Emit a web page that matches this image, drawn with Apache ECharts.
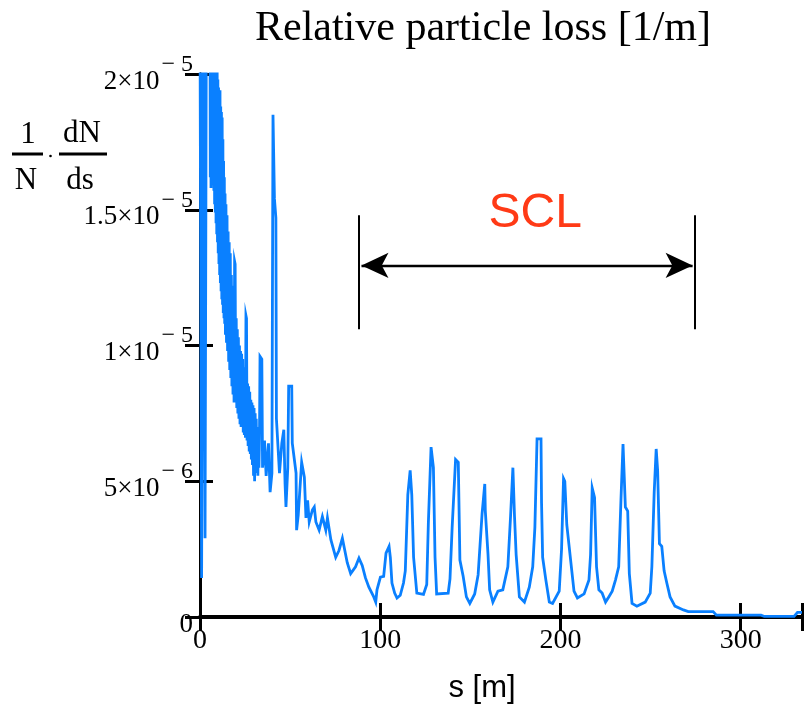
<!DOCTYPE html>
<html>
<head>
<meta charset="utf-8">
<script src="https://cdn.jsdelivr.net/npm/echarts@6/dist/echarts.min.js"></script>
<style>
html,body{margin:0;padding:0;background:#fff;overflow:hidden;}
#chart{width:805px;height:705px;}
</style>
</head>
<body>
<div id="chart"></div>
<script>
// ---- Data (s in metres, loss in units of 1e-6 per metre) ----
const sVals = [
  0.0, 0.9, 1.7, 2.0, 2.8, 3.6, 5.5,
  5.7, 5.9, 6.1, 6.3, 6.5, 6.7, 6.9, 7.1, 7.3, 7.5, 7.7, 7.9, 8.1, 8.3, 8.5, 8.7, 8.9, 9.1, 9.3, 9.5, 9.7, 9.9,
  10.1, 10.3, 10.5, 10.7, 10.9, 11.1, 11.3, 11.5, 11.7, 11.9, 12.1, 12.3, 12.5, 12.7, 12.9, 13.1, 13.3, 13.5, 13.7, 13.9,
  14.1, 14.4, 14.7, 15.0, 15.3, 15.6, 15.9, 16.2, 16.5, 16.8, 17.1, 17.4, 17.7, 18.0, 18.3, 18.6, 18.9, 19.2, 19.5, 19.8,
  20.1, 20.4, 20.7, 21.0, 21.3, 21.6, 21.9, 22.2, 22.5, 22.8, 23.1, 23.4, 23.7, 24.0, 24.3, 24.6, 24.9, 25.2, 25.5, 25.8,
  26.1, 26.4, 26.7, 27.0, 27.3, 27.6, 27.9, 28.2, 28.5, 28.8, 29.1, 29.4, 29.7, 30.0, 30.3, 30.6, 30.9, 31.2, 31.5, 31.8,
  32.1, 32.4, 32.7, 33.0, 33.3, 34.3, 34.7, 35.8, 36.7, 38.0, 38.9, 39.9, 40.5, 40.9, 41.3, 42.1, 42.4, 43.5, 44.1, 45.4,
  46.5, 47.2, 47.7, 48.7, 49.2, 50.9, 51.2, 52.3, 53.3, 53.6, 54.5, 56.4, 57.9, 58.8, 59.7, 60.6, 62.4, 63.4, 64.3, 66.1,
  67.9, 69.8, 70.7, 72.6, 75.3, 77.1, 79.0, 79.9, 81.7, 83.6, 86.3, 88.2, 90.0, 91.8, 93.7, 96.4, 97.5, 98.2, 100.1, 101.9,
  103.2, 104.9, 105.6, 106.5, 108.0, 109.3, 111.1, 112.9, 113.9, 115.3, 116.6, 117.5, 118.5, 120.3, 124.0, 125.8, 126.7, 128.2, 129.5, 130.4,
  131.3, 137.7, 138.7, 139.9, 141.8, 143.3, 144.2, 146.0, 147.8, 149.7, 152.4, 154.3, 156.5, 158.0, 158.3, 159.8, 160.7, 162.5, 165.3, 168.0,
  170.8, 172.3, 173.6, 174.5, 175.4, 177.2, 180.0, 182.7, 184.6, 185.8, 187.0, 189.2, 189.5, 190.1, 191.9, 193.8, 195.6, 199.3, 200.6, 201.7,
  202.4, 203.5, 204.8, 207.5, 209.4, 213.1, 215.8, 216.7, 217.6, 218.9, 220.0, 221.3, 223.1, 225.0, 226.8, 228.7, 230.5, 232.3, 233.6, 234.7,
  235.6, 236.0, 237.3, 238.2, 239.7, 242.4, 247.0, 249.8, 250.7, 252.0, 253.1, 253.9, 254.9, 256.2, 257.5, 259.0, 260.8, 263.5, 268.2, 270.9,
  284.7, 286.5, 311.3, 313.1, 329.6, 331.5, 334.0
];
const lossVals = [
  22, 1.44, 24, 24, 2.9, 24, 24,
  16.2, 24, 15.8, 23, 16.5, 24, 15.9, 22.5, 16.3, 24, 15.7, 21.5, 15.2, 22, 14.9, 21, 14.5, 20.5, 14.1, 21, 13.8, 19.8,
  13.4, 19.5, 13.0, 19.2, 12.6, 19.4, 12.3, 18.8, 12.0, 18.6, 11.7, 18.4, 11.5, 17.6, 11.2, 16.8, 11.0, 16.2, 10.8, 15.6,
  10.4, 15.2, 10.1, 14.8, 9.8, 14.2, 9.4, 13.8, 9.1, 13.4, 8.8, 12.6, 8.5, 12.2, 8.2, 11.6, 7.9, 13.1, 13.0, 8.0,
  11.0, 7.7, 10.6, 7.5, 10.3, 7.3, 10.0, 7.1, 9.8, 7.0, 9.7, 7.2, 9.5, 6.8, 9.2, 6.7, 8.9, 6.6, 11.1, 11.0,
  6.5, 8.6, 6.3, 8.5, 6.1, 8.3, 6.0, 8.0, 5.8, 7.9, 5.6, 7.8, 5.2, 7.7, 5.0, 7.5, 5.3, 7.3, 5.4, 7.0,
  5.2, 6.9, 5.5, 6.6, 9.6, 9.5, 5.5, 6.5, 5.2, 6.4, 4.6, 5.3, 18.5, 18.5, 15.4, 14.7, 7.3, 7.3, 5.3, 6.4,
  6.9, 4.9, 4.05, 5.5, 8.5, 8.5, 6.4, 6.4, 5.3, 3.2, 3.75, 5.7, 5.15, 3.65, 4.3, 3.5, 3.95, 4.05, 3.5, 3.2,
  3.7, 3.2, 3.65, 2.85, 2.2, 2.45, 2.9, 2.6, 2.0, 1.6, 1.85, 2.17, 1.9, 1.44, 1.1, 0.74, 0.55, 1.0, 1.47, 1.5,
  2.35, 2.6, 2.2, 1.25, 0.88, 0.7, 0.8, 1.25, 1.7, 4.5, 5.4, 4.5, 2.2, 0.88, 0.83, 1.2, 3.46, 6.26, 5.5, 2.2,
  0.85, 0.88, 1.4, 3.3, 5.8, 5.7, 2.1, 1.5, 0.74, 0.5, 0.85, 1.55, 3.8, 4.9, 3.9, 2.3, 1.0, 0.55, 0.95, 1.0,
  1.85, 3.7, 5.5, 3.7, 2.3, 0.74, 0.55, 1.1, 1.85, 3.3, 6.56, 6.56, 4.2, 2.2, 1.36, 0.55, 0.5, 0.95, 2.5, 5.1,
  5.0, 3.4, 2.6, 0.95, 0.7, 0.85, 1.36, 2.3, 4.75, 4.4, 1.85, 1.0, 0.88, 0.55, 0.74, 0.95, 1.36, 1.85, 4.4, 6.37,
  6.37, 4.05, 3.9, 1.6, 0.5, 0.4, 0.55, 0.88, 1.85, 4.6, 6.19, 5.4, 2.7, 2.6, 1.7, 1.25, 0.74, 0.4, 0.26, 0.2,
  0.2, 0.07, 0.07, 0.02, 0.02, 0.17, 0.17
];

// Axis ticks
const xTickValues = [0, 100, 200, 300];
const yTickValues = [0, 5, 10, 15, 20];
const yTickMantissa = ['0', '5\u00d710', '1\u00d710', '1.5\u00d710', '2\u00d710'];
const yTickExponent = ['', '\u2212 6', '\u2212 5', '\u2212 5', '\u2212 5'];

// SCL annotation (data coordinates)
const sclStart = 88.2, sclEnd = 274.5;
const sclBarTop = 14.8, sclBarBottom = 10.6, sclArrowY = 12.95;
const sclLabel = 'SCL';

const titleText = 'Relative particle loss [1/m]';
const xAxisTitle = 's [m]';

const serif = "'Liberation Serif', 'Times New Roman', serif";
const sans = "'Liberation Sans', Arial, sans-serif";

const chart = echarts.init(document.getElementById('chart'), null, {renderer: 'canvas'});

const lossData = sVals.map((s, i) => [s, lossVals[i]]);

const option = {
  animation: false,
  backgroundColor: '#fff',
  grid: {left: 200, top: 74, width: 606, height: 543, containLabel: false},
  xAxis: [
    {
      type: 'value', min: 0, max: 334, interval: 100, position: 'bottom',
      axisLine: {show: true, lineStyle: {color: '#000', width: 3}},
      axisTick: {show: true, inside: true, length: 14, lineStyle: {color: '#000', width: 3}},
      axisLabel: {
        margin: 10, color: '#000', fontFamily: serif, fontSize: 28,
        formatter: v => xTickValues.indexOf(v) >= 0 ? String(v) : ''
      },
      splitLine: {show: false}
    },
    {
      type: 'value', min: 0, max: 334, interval: 100, position: 'top',
      axisLine: {show: true, lineStyle: {color: '#000', width: 4}},
      axisTick: {show: true, inside: true, length: 14, lineStyle: {color: '#000', width: 3}},
      axisLabel: {show: false},
      splitLine: {show: false}
    }
  ],
  yAxis: [
    {
      type: 'value', min: 0, max: 20, interval: 5, position: 'left',
      axisLine: {show: true, lineStyle: {color: '#000', width: 3}},
      axisTick: {show: true, inside: true, length: 13, lineStyle: {color: '#000', width: 3}},
      axisLabel: {
        margin: 7, color: '#000', fontFamily: serif, fontSize: 27,
        formatter: v => {
          const i = yTickValues.indexOf(v);
          if (i < 0) return '';
          return yTickExponent[i] ? '{b|' + yTickMantissa[i] + '}{e|' + yTickExponent[i] + '}' : '{b|' + yTickMantissa[i] + '}';
        },
        rich: {
          b: {fontFamily: serif, fontSize: 27, color: '#000', padding: [15, 0, 0, 0]},
          e: {fontFamily: serif, fontSize: 24, color: '#000', padding: [0, 0, 19, 2]}
        }
      },
      splitLine: {show: false}
    },
    {
      type: 'value', min: 0, max: 20, interval: 5, position: 'right',
      axisLine: {show: true, lineStyle: {color: '#000', width: 3}},
      axisTick: {show: true, inside: true, length: 15, lineStyle: {color: '#000', width: 3}},
      axisLabel: {show: false},
      splitLine: {show: false}
    }
  ],
  series: [
    {
      type: 'line', xAxisIndex: 0, yAxisIndex: 0, data: lossData,
      showSymbol: false, symbol: 'none', clip: true,
      lineStyle: {color: '#0a80ff', width: 2.8, join: 'miter'},
      z: 3
    },
    {
      type: 'line', xAxisIndex: 0, yAxisIndex: 0, data: [], symbol: 'none',
      markLine: {
        silent: true, animation: false,
        label: {show: false},
        lineStyle: {color: '#000', type: 'solid', width: 2},
        data: [
          [{coord: [sclStart, sclBarTop], symbol: 'none'}, {coord: [sclStart, sclBarBottom], symbol: 'none'}],
          [{coord: [sclEnd, sclBarTop], symbol: 'none'}, {coord: [sclEnd, sclBarBottom], symbol: 'none'}],
          [{coord: [sclStart + 1.4, sclArrowY], symbol: 'arrow', symbolSize: [19, 27]},
           {coord: [sclEnd - 1.2, sclArrowY], symbol: 'arrow', symbolSize: [19, 27], lineStyle: {width: 2.4}}]
        ]
      },
      markPoint: {
        silent: true, animation: false,
        symbol: 'rect', symbolSize: 1, itemStyle: {color: 'rgba(0,0,0,0)'},
        label: {show: true, position: 'inside', color: '#ff3a16', fontFamily: sans, fontSize: 48, formatter: '{b}'},
        data: [{name: sclLabel, coord: [186, 14.85]}]
      }
    }
  ],
  graphic: [
    {type: 'text', x: 483, y: 29, style: {text: titleText, font: "42px " + serif, fill: '#000', align: 'center', verticalAlign: 'middle'}},
    {type: 'text', x: 482, y: 688, style: {text: xAxisTitle, font: "31px " + sans, fill: '#000', align: 'center', verticalAlign: 'middle'}},
    {type: 'text', x: 28, y: 135, style: {text: '1', font: "31px " + serif, fill: '#000', align: 'center', verticalAlign: 'middle'}},
    {type: 'line', shape: {x1: 12, y1: 154, x2: 43, y2: 154}, style: {stroke: '#000', lineWidth: 3}},
    {type: 'text', x: 26, y: 181, style: {text: 'N', font: "31px " + serif, fill: '#000', align: 'center', verticalAlign: 'middle'}},
    {type: 'circle', shape: {cx: 50.5, cy: 156, r: 1.3}, style: {fill: '#000'}},
    {type: 'text', x: 82, y: 134, style: {text: 'dN', font: "31px " + serif, fill: '#000', align: 'center', verticalAlign: 'middle'}},
    {type: 'line', shape: {x1: 59, y1: 154, x2: 107, y2: 154}, style: {stroke: '#000', lineWidth: 3}},
    {type: 'text', x: 80, y: 181, style: {text: 'ds', font: "31px " + serif, fill: '#000', align: 'center', verticalAlign: 'middle'}}
  ]
};

chart.setOption(option);
</script>
</body>
</html>
